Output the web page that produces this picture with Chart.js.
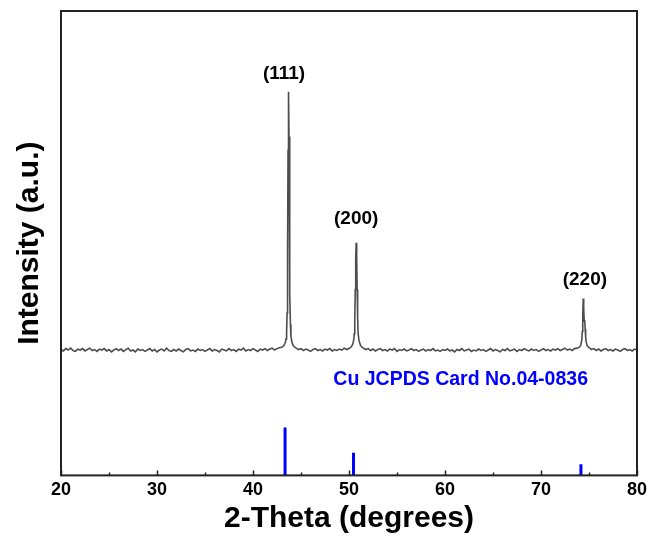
<!DOCTYPE html>
<html>
<head>
<meta charset="utf-8">
<script src="https://cdn.jsdelivr.net/npm/chart.js@4.4.1/dist/chart.umd.min.js"></script>
<style>
  html, body { margin: 0; padding: 0; background: #fff; }
  canvas { display: block; }
</style>
</head>
<body>
<canvas id="xrdChart" width="652" height="540"></canvas>
<script>
// measured scan, [2-theta, intensity]
const xrdPattern = [
  [20,271],[20.25,268],[20.5,273],[20.75,270],[21,274],[21.25,269],[21.5,267],[21.75,272],[22,270],[22.25,273],[22.5,268],[22.75,271],
  [23,274],[23.25,269],[23.5,271],[23.75,267],[24,272],[24.25,270],[24.5,273],[24.75,268],[25,271],[25.25,266],[25.5,270],[25.75,273],
  [26,269],[26.25,272],[26.5,267],[26.75,271],[27,274],[27.25,268],[27.5,270],[27.75,266],[28,272],[28.25,269],[28.5,271],[28.75,267],
  [29,270],[29.25,273],[29.5,268],[29.75,271],[30,266],[30.25,270],[30.5,272],[30.75,268],[31,274],[31.25,269],[31.5,267],[31.75,271],
  [32,268],[32.25,272],[32.5,269],[32.75,266],[33,271],[33.25,273],[33.5,268],[33.75,270],[34,267],[34.25,272],[34.5,269],[34.75,271],
  [35,267],[35.25,270],[35.5,273],[35.75,268],[36,271],[36.25,269],[36.5,266],[36.75,272],[37,270],[37.25,268],[37.5,273],[37.75,269],
  [38,271],[38.25,267],[38.5,272],[38.75,270],[39,274],[39.25,268],[39.5,271],[39.75,269],[40,273],[40.25,270],[40.5,267],[40.75,272],
  [41,270],[41.25,273],[41.5,269],[41.75,272],[42,274],[42.25,270],[42.5,273],[42.75,275],
  [43,276],[43.2,279],[43.35,285],[43.45,294],[43.5,308],[43.55,350],[43.6,480],[43.65,700],[43.7,826],[43.75,730],[43.8,520],
  [43.85,390],[43.9,325],[43.95,300],[44.05,287],[44.2,279],[44.35,276],
  [44.5,274],[44.75,271],[45,273],[45.25,269],[45.5,272],[45.75,270],[46,267],[46.25,271],[46.5,273],[46.75,269],[47,271],[47.25,268],
  [47.5,272],[47.75,270],[48,273],[48.25,268],[48.5,271],[48.75,269],[49,272],[49.25,270],[49.5,274],[49.75,271],[50,273],
  [50.25,277],[50.4,283],[50.5,293],[50.55,305],[50.6,335],[50.65,400],[50.7,470],[50.75,501],[50.8,470],[50.85,400],[50.9,338],
  [50.95,306],[51.05,289],[51.2,280],[51.35,276],
  [51.5,274],[51.75,271],[52,273],[52.25,269],[52.5,272],[52.75,268],[53,271],[53.25,273],[53.5,269],[53.75,271],
  [54,268],[54.25,272],[54.5,270],[54.75,273],[55,267],[55.25,271],[55.5,269],[55.75,272],[56,268],[56.25,270],[56.5,273],[56.75,269],
  [57,271],[57.25,267],[57.5,270],[57.75,272],[58,268],[58.25,271],[58.5,269],[58.75,273],[59,268],[59.25,270],[59.5,267],[59.75,271],
  [60,269],[60.25,272],[60.5,268],[60.75,270],[61,266],[61.25,271],[61.5,269],[61.75,273],[62,268],[62.25,270],[62.5,272],[62.75,267],
  [63,270],[63.25,268],[63.5,272],[63.75,269],[64,271],[64.25,267],[64.5,270],[64.75,273],[65,268],[65.25,271],[65.5,269],[65.75,266],
  [66,271],[66.25,269],[66.5,273],[66.75,268],[67,270],[67.25,272],[67.5,267],[67.75,271],[68,269],[68.25,273],[68.5,270],[68.75,268],
  [69,272],[69.25,269],[69.5,271],[69.75,267],[70,270],[70.25,273],[70.5,269],[70.75,271],[71,268],[71.25,272],[71.5,270],[71.75,273],
  [72,269],[72.25,271],[72.5,274],[72.75,270],[73,272],[73.25,269],[73.5,273],[73.75,274],
  [74,276],[74.15,281],[74.25,292],[74.3,310],[74.35,345],[74.4,381],[74.45,358],[74.5,332],[74.55,335],[74.6,315],[74.65,298],
  [74.7,288],[74.8,280],[74.95,276],
  [75.1,274],[75.25,271],[75.5,273],[75.75,269],[76,272],[76.25,268],[76.5,271],[76.75,273],[77,269],[77.25,271],[77.5,268],[77.75,272],
  [78,270],[78.25,267],[78.5,271],[78.75,273],[79,269],[79.25,271],[79.5,268],[79.75,272],[80,270]
];

// Cu reference card sticks
const jcpdsTheta = [43.34, 50.47, 74.16];
const jcpdsIntensity = [103, 49, 24];

// peak indices and where their text sits
const peakLabels = ['(111)', '(200)', '(220)'];
const peakLabelTheta = [43.23, 50.75, 74.57];
const peakLabelBase = [854, 542, 411];

const cardText = 'Cu JCPDS Card No.04-0836';
const cardTheta = 61.63;
const cardIntensity = 206;

const xTicks = [20, 30, 40, 50, 60, 70, 80];
const xMinorTicks = [25, 35, 45, 55, 65, 75];

const FONT = "'Liberation Sans', Arial, Helvetica, sans-serif";

// sticks as one line dataset broken by null gaps
const stickData = [];
jcpdsTheta.forEach((t, i) => {
  stickData.push({ x: t, y: 0 }, { x: t, y: jcpdsIntensity[i] }, { x: t, y: null });
});

const framePlugin = {
  id: 'frame',
  afterDatasetsDraw(chart) {
    const { ctx, chartArea: a, scales: { x, y } } = chart;
    ctx.save();
    // peak labels
    ctx.fillStyle = '#000';
    ctx.font = 'bold 19px ' + FONT;
    ctx.textAlign = 'center';
    ctx.textBaseline = 'alphabetic';
    peakLabels.forEach((lbl, i) => {
      ctx.fillText(lbl, x.getPixelForValue(peakLabelTheta[i]), y.getPixelForValue(peakLabelBase[i]));
    });
    // card note
    ctx.fillStyle = '#0000ff';
    ctx.font = 'bold 19.5px ' + FONT;
    ctx.textBaseline = 'middle';
    ctx.fillText(cardText, x.getPixelForValue(cardTheta), y.getPixelForValue(cardIntensity));
    // inward ticks
    ctx.strokeStyle = '#222';
    ctx.lineWidth = 1.5;
    ctx.beginPath();
    xTicks.forEach(v => {
      const px = Math.round(x.getPixelForValue(v)) + 0.5;
      ctx.moveTo(px, a.bottom); ctx.lineTo(px, a.bottom - 5);
    });
    xMinorTicks.forEach(v => {
      const px = Math.round(x.getPixelForValue(v)) + 0.5;
      ctx.moveTo(px, a.bottom); ctx.lineTo(px, a.bottom - 3);
    });
    ctx.stroke();
    // frame
    ctx.lineWidth = 2;
    ctx.strokeRect(a.left, a.top, a.right - a.left, a.bottom - a.top);
    ctx.restore();
  }
};

new Chart(document.getElementById('xrdChart').getContext('2d'), {
  type: 'line',
  data: {
    datasets: [{
      label: 'Cu',
      data: xrdPattern.map(p => ({ x: p[0], y: p[1] })),
      borderColor: '#4d4d4d',
      borderWidth: 1.6,
      pointRadius: 0,
      tension: 0
    }, {
      label: 'JCPDS 04-0836',
      data: stickData,
      borderColor: '#0000ff',
      borderWidth: 3,
      pointRadius: 0,
      spanGaps: false
    }]
  },
  options: {
    responsive: false,
    animation: false,
    layout: { padding: { left: 12, right: 15, top: 11, bottom: 3 } },
    scales: {
      x: {
        type: 'linear',
        min: 20,
        max: 80,
        afterBuildTicks: axis => { axis.ticks = xTicks.map(v => ({ value: v })); },
        grid: { display: false, drawTicks: false },
        border: { display: false },
        ticks: {
          color: '#000',
          padding: 4,
          font: { family: FONT, size: 18, weight: 'bold' }
        },
        title: {
          display: true,
          text: '2-Theta (degrees)',
          color: '#000',
          padding: { top: -4, bottom: 0 },
          font: { family: FONT, size: 30, weight: 'bold' }
        }
      },
      y: {
        min: 0,
        max: 1000,
        grid: { display: false, drawTicks: false },
        border: { display: false },
        ticks: { display: false },
        title: {
          display: true,
          text: 'Intensity (a.u.)',
          color: '#000',
          padding: { top: 0, bottom: 13 },
          font: { family: FONT, size: 30, weight: 'bold' }
        }
      }
    },
    plugins: {
      legend: { display: false },
      tooltip: { enabled: false }
    }
  },
  plugins: [framePlugin]
});
</script>
</body>
</html>
